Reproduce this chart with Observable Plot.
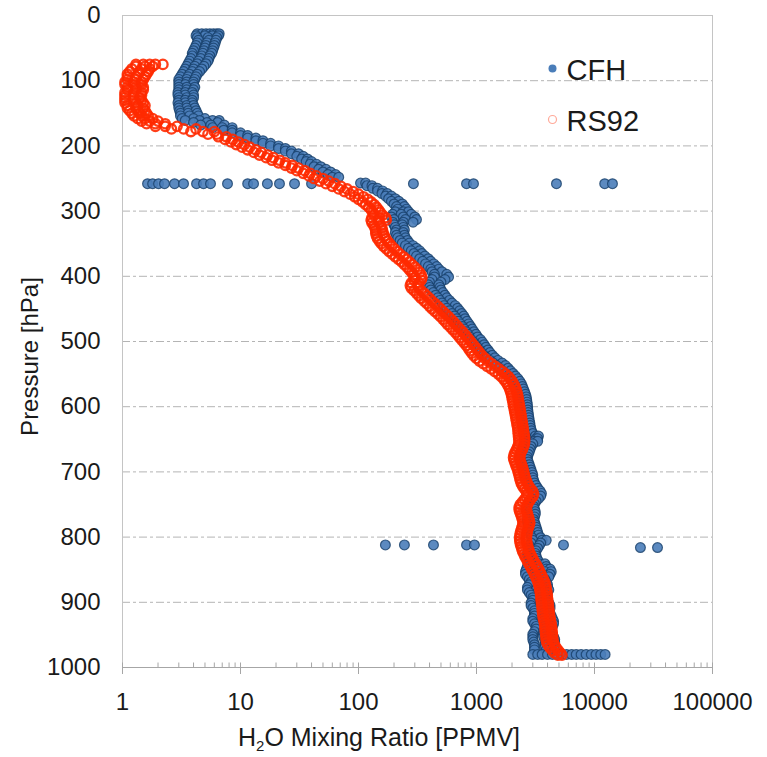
<!DOCTYPE html>
<html><head><meta charset="utf-8">
<script src="https://cdn.jsdelivr.net/npm/d3@7"></script>
<script src="https://cdn.jsdelivr.net/npm/@observablehq/plot@0.6"></script>
<style>body{margin:0;background:#fff}#chart{width:767px;height:757px}</style>
</head><body><div id="chart"></div>
<script>
// Axis ticks
const xTickValues = [1, 10, 100, 1000, 10000, 100000];
const yTickValues = [0, 100, 200, 300, 400, 500, 600, 700, 800, 900, 1000];
const gridPressures = [100, 200, 300, 400, 500, 600, 700, 800, 900];
const seriesNames = ["CFH", "RS92"];

// CFH (frost point hygrometer): rows of [pressure hPa, mixing ratios ppmv...]
const cfhUpper = [
  [28, 4.3, 4.7, 5.1, 5.5, 5.9, 6.3, 6.6],[31, 4.2, 5.0, 5.8, 6.5],[34, 4.3, 5.3, 6.3],[38, 4.4, 5.4, 6.2],
  [42, 4.3, 5.2, 6.1],[46, 4.2, 5.1, 6.0],[50, 4.1, 5.0, 5.9],[54, 4.0, 4.9, 5.8],[58, 3.9, 4.8, 5.7],
  [62, 3.9, 4.7, 5.5],[66, 3.8, 4.6, 5.4],[70, 3.7, 4.4, 5.3],[74, 3.6, 4.3, 5.1],[78, 3.5, 4.1, 4.9],
  [82, 3.4, 4.0, 4.7],[86, 3.3, 3.9, 4.5],[90, 3.2, 3.7, 4.3],[94, 3.1, 3.6, 4.2],[98, 3.0, 3.5, 4.1],
  [102, 3.0, 3.5, 4.0],[106, 3.0, 3.4, 4.0],[110, 3.0, 3.5, 4.1],[114, 3.0, 3.5, 4.0],[118, 2.95, 3.4, 3.9],
  [122, 2.95, 3.4, 4.0],[126, 3.0, 3.5, 4.0],[130, 3.0, 3.4, 3.9],[134, 2.95, 3.4, 3.9],[138, 3.0, 3.5, 4.0],
  [142, 3.0, 3.5, 4.1],[146, 3.05, 3.6, 4.2],[150, 3.1, 3.6, 4.3],[154, 3.1, 3.7, 4.4],[158, 3.2, 4.0, 5.0],
  [161, 3.4, 4.5, 5.8, 6.6],[164, 4.0, 5.2, 6.4],[168, 4.6, 5.6, 7.3],[172, 5.8, 7.0, 8.5],[176, 7.2, 8.5],
  [180, 8.5, 10],[184, 10, 11.5],[188, 11.5, 13.5],[192, 13.5, 15.5],[196, 15.5, 18],[200, 18, 21],
  [204, 21, 24],[208, 24, 27],[212, 27, 31],[216, 30, 34],[220, 33, 37],[224, 36, 40],[228, 39, 44],
  [232, 42, 48],[236, 46, 53],[240, 50, 58],[244, 55, 64],[248, 60, 68]
];
const cfhSpikes = [
  [258, 1.63, 1.80, 2.02, 2.27, 2.76, 3.29, 4.24, 4.86, 5.57, 7.76, 11.5, 12.9, 16.9, 21.4, 28.7, 40, 292, 823, 943, 4760, 12200, 14200],
  [812, 169, 245, 432, 823, 961, 5460],
  [816, 24500, 34200]
];
const cfhMiddle = [
  [257, 104, 115],[261, 118, 130],[265, 132, 145],[269, 145, 160],[273, 158, 175],[277, 170, 190],
  [281, 180, 205],[285, 190, 220],[289, 200, 235],[293, 210, 245],[297, 215, 255],[301, 205, 240, 265],
  [305, 195, 230, 280],[309, 190, 240, 300],[313, 200, 250, 310],[317, 195, 240, 290],[321, 200, 235],
  [325, 205, 240],[329, 210, 245],[333, 205, 240],[337, 210, 245],[341, 215, 250],[345, 225, 260],
  [349, 235, 270],[353, 250, 290],[357, 265, 310],[361, 280, 330],[365, 295, 345],[369, 310, 365],
  [373, 330, 390],[377, 350, 410],[381, 370, 435],[385, 390, 460],[389, 410, 480],[393, 420, 510],
  [397, 440, 560],[401, 440, 580],[405, 420, 540],[409, 400, 500],[413, 390, 480],[417, 400, 490],
  [421, 410, 500],[425, 430, 520],[429, 450, 540],[433, 470, 560],[437, 490, 590],[441, 510, 620],
  [445, 530, 660],[449, 560, 690],[453, 590, 720],[457, 620, 750],[461, 650, 780],[465, 680, 800],
  [469, 700, 830],[473, 730, 860],[477, 760, 890],[481, 790, 920],[485, 820, 950],[489, 850, 990],
  [493, 880, 1020],[497, 900, 1080],[501, 940, 1120],[505, 980, 1160],[509, 1020, 1200],[513, 1060, 1250],
  [517, 1100, 1300],[521, 1150, 1360],[525, 1220, 1430],[529, 1300, 1520],[533, 1390, 1650],
  [537, 1480, 1760],[541, 1560, 1850],[545, 1650, 1940],[549, 1750, 2040],[553, 1850, 2140],
  [557, 1930, 2240],[561, 2000, 2330],[565, 2060, 2400],[569, 2110, 2450],[573, 2150, 2500],
  [577, 2190, 2550],[581, 2220, 2600],[585, 2250, 2640],[589, 2280, 2660],[593, 2310, 2680],
  [597, 2330, 2700],[601, 2350, 2710],[605, 2370, 2720],[609, 2390, 2740],[613, 2410, 2760],
  [617, 2430, 2780],[621, 2450, 2800],[625, 2470, 2830],[629, 2480, 2850],[633, 2490, 2880],
  [637, 2500, 2920],[641, 2550, 3000],[645, 2600, 3150, 3350],[649, 2650, 3200, 3300],[653, 2650, 3100, 3300],
  [657, 2600, 3000],[661, 2550, 2900],[665, 2500, 2850]
];
const cfhLower = [
  [669, 2450, 2800],[673, 2400, 2750],[677, 2400, 2700],[681, 2400, 2700],[685, 2450, 2750],[689, 2500, 2800],
  [693, 2550, 2850],[697, 2600, 2900],[701, 2650, 2950],[705, 2650, 3000],[709, 2700, 3000],[713, 2700, 3050],
  [717, 2750, 3100],[721, 2800, 3200],[725, 2900, 3300],[729, 3000, 3450],[733, 3050, 3550],[737, 3000, 3500],
  [741, 2900, 3350],[745, 2800, 3200],[749, 2750, 3100],[753, 2700, 3050],[757, 2750, 3100],[761, 2800, 3150],
  [765, 2800, 3150],[769, 2750, 3100],[773, 2700, 3050],[777, 2700, 3100],[781, 2750, 3150],[785, 2800, 3200],
  [789, 2800, 3250],[793, 2850, 3300],[797, 2900, 3350],[801, 2950, 3500],[805, 3000, 3600, 3900],
  [809, 2900, 3500],[813, 2800, 3400],[817, 2800, 3300],[821, 2750, 3200],[825, 2700, 3150],[829, 2750, 3200],
  [833, 2800, 3250],[837, 2850, 3350],[841, 2800, 3400, 3800],[845, 2700, 3300, 3900],
  [849, 2650, 3200, 3900, 4200],[853, 2600, 3100, 3800, 4300],[857, 2600, 3000, 3600, 4200],
  [861, 2700, 3100, 3700, 4100],[865, 2800, 3300, 3800],[869, 2900, 3400, 3900],[873, 2800, 3400, 4000],
  [877, 2700, 3300, 4000],[881, 2700, 3200, 4100],[885, 2800, 3300, 4000],[889, 2900, 3400, 3900],
  [893, 3000, 3500, 3900],[897, 3000, 3500, 4000],[901, 2900, 3500, 4100],[905, 2900, 3500, 4200],
  [909, 3000, 3600, 4200],[913, 3100, 3600, 4100],[917, 3100, 3700, 4200],[921, 3100, 3700, 4300],
  [925, 3000, 3700, 4400],[929, 3000, 3700, 4500],[933, 3100, 3800, 4500],[937, 3200, 3800, 4400],
  [941, 3200, 3800, 4300],[945, 3100, 3700, 4300],[949, 3000, 3700, 4400],[953, 3000, 3700, 4500],
  [957, 3000, 3800, 4600],[961, 3050, 3800, 4600],[965, 3100, 3800, 4500],[969, 3100, 3800, 4500],
  [973, 3100, 3900, 4600],
  [980, 3000, 3300, 3600, 4000, 4400, 4800, 5300, 5800, 6400, 7000, 7700, 8500, 9400, 10300, 11300, 12300]
];

// RS92 radiosonde: rows of [pressure hPa, mixing ratios ppmv...]
const rs92Upper = [
  [75, 1.3, 1.5, 1.7, 1.9, 2.2],[78, 1.3, 1.55, 1.8],[82, 1.2, 1.45, 1.7],[86, 1.15, 1.4, 1.65],
  [90, 1.1, 1.35, 1.6],[94, 1.1, 1.3, 1.55],[98, 1.1, 1.3, 1.5],[102, 1.05, 1.25, 1.45],[106, 1.05, 1.25, 1.45],
  [110, 1.1, 1.3, 1.5],[114, 1.1, 1.3, 1.5],[118, 1.05, 1.25, 1.45],[122, 1.05, 1.25, 1.45],[126, 1.05, 1.25, 1.4],
  [130, 1.05, 1.25, 1.45],[134, 1.05, 1.3, 1.5],[138, 1.1, 1.35, 1.55],[142, 1.1, 1.3, 1.5],[146, 1.15, 1.35, 1.55],
  [150, 1.2, 1.4, 1.6],[154, 1.25, 1.45, 1.65],[158, 1.35, 1.55, 1.8],[162, 1.45, 1.7, 2.0],[166, 1.6, 1.9, 2.3],
  [170, 1.9, 2.3, 2.9],[174, 2.6, 3.3, 4.2],[178, 3.8, 4.8, 6.0],[182, 5.3, 6.3],[186, 6.5, 7.6],[190, 7.4, 8.6],
  [194, 8.3, 9.6],[198, 9.2, 10.8],[202, 10.3, 12],[206, 11.5, 13.5],[210, 13, 15],[214, 14.5, 17],
  [218, 16.5, 19],[222, 18.5, 21.5],[226, 21, 24],[230, 24, 27.5],[234, 27, 31],[238, 30, 35],[242, 34, 39],
  [246, 38, 44],[250, 42, 50],[254, 47, 56],[258, 53, 63],[262, 60, 71],[266, 68, 80],[270, 76, 90],
  [274, 85, 100],[278, 93, 110],[282, 100, 120],[286, 108, 128],[290, 115, 136],[294, 122, 142],
  [298, 128, 148],[302, 133, 153],[306, 135, 160],[310, 130, 150, 170],[314, 128, 148, 172],[318, 130, 150],
  [322, 135, 155],[326, 138, 158],[330, 140, 160],[334, 140, 162],[338, 142, 166],[342, 145, 170],
  [346, 150, 176],[350, 156, 184],[354, 163, 192],[358, 172, 202],[362, 182, 213],[366, 193, 225],
  [370, 205, 240],[374, 218, 255],[378, 232, 270],[382, 245, 285],[386, 258, 300],[390, 270, 315],
  [394, 283, 330],[398, 292, 340],[402, 300, 345],[406, 295, 340],[410, 280, 325],[414, 275, 320],
  [418, 280, 325],[422, 295, 340],[426, 310, 360],[430, 325, 380],[434, 340, 400],[438, 360, 420],
  [442, 380, 445],[446, 400, 470],[450, 420, 495],[454, 445, 520],[458, 470, 550],[462, 495, 580],
  [466, 520, 610],[470, 545, 640],[474, 570, 670],[478, 600, 700],[482, 630, 735],[486, 660, 770],
  [490, 690, 805],[494, 720, 840],[498, 750, 875],[502, 785, 910],[506, 820, 950],[510, 850, 990],
  [514, 880, 1030],[518, 910, 1070],[522, 950, 1120],[526, 1000, 1180],[530, 1060, 1250],[534, 1140, 1340],
  [538, 1230, 1440],[542, 1330, 1550],[546, 1430, 1660],[550, 1530, 1770],[554, 1620, 1870],[558, 1700, 1950],
  [562, 1770, 2020],[566, 1830, 2080],[570, 1880, 2130],[574, 1920, 2170],[578, 1950, 2200],[582, 1980, 2230],
  [586, 2000, 2250]
];
const rs92Lower = [
  [590, 2020, 2270],[594, 2040, 2290],[598, 2060, 2310],[602, 2080, 2330],[606, 2100, 2350],[610, 2120, 2370],
  [614, 2140, 2390],[618, 2160, 2410],[622, 2180, 2430],[626, 2200, 2450],[630, 2220, 2470],[634, 2240, 2490],
  [638, 2250, 2510],[642, 2260, 2530],[646, 2270, 2550],[650, 2280, 2560],[654, 2290, 2560],[658, 2270, 2540],
  [662, 2230, 2500],[666, 2180, 2450],[670, 2120, 2380],[674, 2080, 2340],[678, 2060, 2320],[682, 2080, 2340],
  [686, 2120, 2380],[690, 2160, 2420],[694, 2200, 2460],[698, 2240, 2500],[702, 2270, 2530],[706, 2300, 2560],
  [710, 2330, 2600],[714, 2360, 2650],[718, 2400, 2700],[722, 2460, 2780],[726, 2550, 2880],[730, 2650, 3000],
  [734, 2700, 3050],[738, 2650, 3000],[742, 2550, 2880],[746, 2450, 2780],[750, 2350, 2700],[754, 2300, 2650],
  [758, 2300, 2650],[762, 2330, 2680],[766, 2380, 2720],[770, 2420, 2760],[774, 2460, 2800],[778, 2480, 2830],
  [782, 2460, 2800],[786, 2420, 2750],[790, 2380, 2700],[794, 2350, 2680],[798, 2330, 2660],[802, 2320, 2650],
  [806, 2330, 2660],[810, 2350, 2680],[814, 2380, 2720],[818, 2420, 2760],[822, 2460, 2800],[826, 2520, 2870],
  [830, 2580, 2940],[834, 2650, 3020],[838, 2720, 3100],[842, 2800, 3200],[846, 2880, 3300],[850, 2960, 3380],
  [854, 3040, 3460],[858, 3120, 3550],[862, 3200, 3640],[866, 3270, 3720],[870, 3330, 3800],[874, 3380, 3850],
  [878, 3420, 3900],[882, 3450, 3930],[886, 3480, 3960],[890, 3500, 3980],[894, 3520, 4000],[898, 3540, 4020],
  [902, 3560, 4050],[906, 3580, 4070],[910, 3600, 4100],[914, 3620, 4120],[918, 3640, 4150],[922, 3660, 4180],
  [926, 3700, 4220],[930, 3740, 4260],[934, 3780, 4300],[938, 3800, 4330],[942, 3820, 4350],[946, 3840, 4380],
  [950, 3860, 4400],[954, 3880, 4420],[958, 3900, 4450],[962, 3950, 4500],[966, 4050, 4600],[970, 4200, 4750],
  [974, 4400, 4950],[978, 4600, 5150],[981, 4900, 5300]
];

const flatten = rows => rows.flatMap(([p, ...vs]) => vs.map(v => ({p, v})));
const cfh = flatten([...cfhUpper, ...cfhSpikes, ...cfhMiddle, ...cfhLower]);
const rs92 = flatten([...rs92Upper, ...rs92Lower]);
const minorTicks = xTickValues.slice(0, -1).flatMap(d => d3.range(2, 10).map(k => k * d));

const W = 767, H = 757, mL = 122, mR = 55, mT = 15, mB = 90;
const plotH = H - mT - mB;
const font = "'Liberation Sans', Arial, Helvetica, sans-serif";
const blue = "#4a7db9", red = "#ff2a00", ink = "#1a1a1a";

const chart = Plot.plot({
  width: W, height: H,
  marginLeft: mL, marginRight: mR, marginTop: mT, marginBottom: mB,
  style: {fontFamily: font, background: "#fff", color: ink},
  x: {type: "log", domain: [1, 100000]},
  y: {domain: [0, 1000], reverse: true},
  marks: [
    Plot.ruleY(gridPressures, {stroke: "#b4b4b4", strokeWidth: 1, strokeDasharray: "8 3 3 3"}),
    Plot.frame({stroke: "#c4c4c4"}),
    Plot.ruleY([1000], {stroke: "#a6a6a6"}),
    Plot.ruleX(xTickValues, {stroke: "#a6a6a6", insetTop: plotH - 4.5, insetBottom: -7}),
    Plot.ruleX(minorTicks, {stroke: "#a6a6a6", insetTop: plotH - 4.5}),
    Plot.axisY({ticks: yTickValues, tickSize: 0, tickPadding: 22, fontSize: 24, tickFormat: d => String(d), label: null, fill: ink}),
    Plot.axisX({ticks: xTickValues, tickSize: 0, tickPadding: 25, fontSize: 24, tickFormat: d => String(d), label: null, fill: ink}),
    Plot.dot(cfh, {x: "v", y: "p", r: 4.9, fill: blue, fillOpacity: 0.9, stroke: "#173f69", strokeOpacity: 0.8, strokeWidth: 1.2}),
    Plot.dot(rs92, {x: "v", y: "p", r: 4.7, fill: "none", stroke: red, strokeOpacity: 0.9, strokeWidth: 2.3}),
    // legend
    Plot.dot([seriesNames[0]], {frameAnchor: "top-left", dx: 430, dy: 53, r: 4, fill: blue}),
    Plot.dot([seriesNames[1]], {frameAnchor: "top-left", dx: 430, dy: 104, r: 4, fill: "none", stroke: red, strokeOpacity: 0.4, strokeWidth: 1.2}),
    Plot.text([seriesNames[0]], {text: d => d, frameAnchor: "top-left", dx: 444, dy: 55, textAnchor: "start", lineAnchor: "middle", fontSize: 29, fill: ink}),
    Plot.text([seriesNames[1]], {text: d => d, frameAnchor: "top-left", dx: 444, dy: 106, textAnchor: "start", lineAnchor: "middle", fontSize: 29, fill: ink}),
    // y title
    Plot.text(["Pressure [hPa]"], {text: d => d, frameAnchor: "left", dx: -92, dy: 15, rotate: -90, textAnchor: "middle", lineAnchor: "middle", fontSize: 24, fill: ink})
  ]
});

const svg = d3.select(chart);
const xt = svg.append("text")
  .attr("x", mL + (W - mL - mR) / 2 - 38)
  .attr("y", H - 11)
  .attr("text-anchor", "middle")
  .attr("font-size", 25)
  .attr("font-family", font)
  .attr("fill", ink);
xt.append("tspan").text("H");
xt.append("tspan").attr("font-size", 15).attr("dy", 5).text("2");
xt.append("tspan").attr("dy", -5).text("O Mixing Ratio [PPMV]");

document.getElementById("chart").append(chart);
</script>
</body></html>
